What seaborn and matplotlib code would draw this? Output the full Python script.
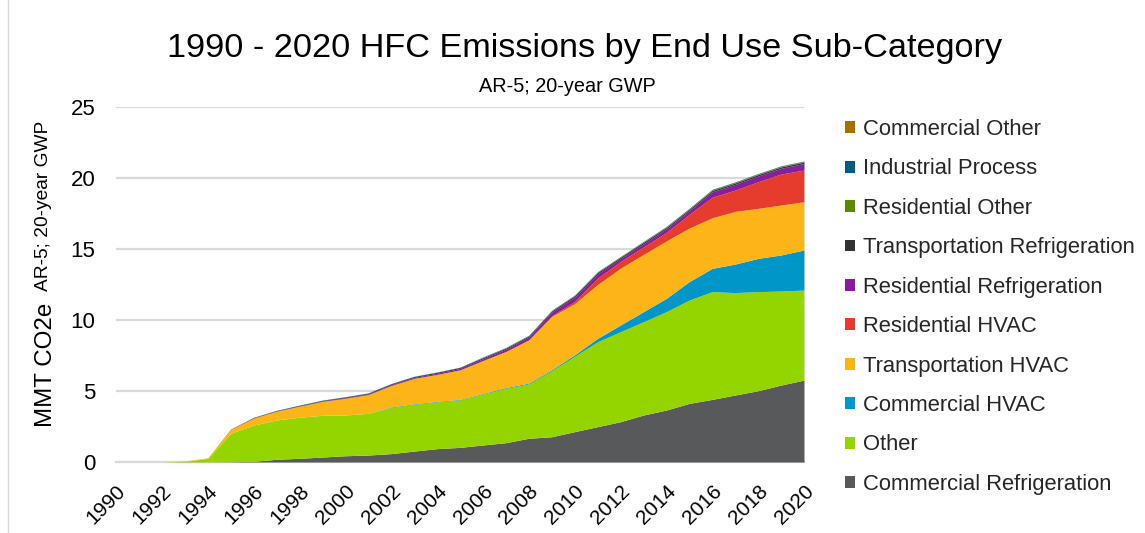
import matplotlib
matplotlib.use("Agg")
import matplotlib.pyplot as plt
from matplotlib.patches import Patch
from matplotlib.lines import Line2D
import seaborn as sns
import numpy as np
import pandas as pd

years = list(range(1990, 2021))

commercial_refrigeration = [0, 0, 0, 0, 0, 0.02, 0.05, 0.19, 0.26, 0.35, 0.44, 0.49, 0.59, 0.77, 0.94, 1.03,
                            1.2, 1.36, 1.67, 1.78, 2.14, 2.49, 2.84, 3.31, 3.66, 4.13, 4.41, 4.72, 5.02, 5.42, 5.77]
other = [0, 0, 0, 0.05, 0.25, 2.0, 2.55, 2.77, 2.89, 2.94, 2.87, 2.94, 3.24, 3.29, 3.29, 3.34,
         3.59, 3.83, 3.83, 4.65, 5.31, 5.98, 6.34, 6.57, 6.93, 7.28, 7.59, 7.21, 6.98, 6.62, 6.34]
commercial_hvac = [0, 0, 0, 0, 0, 0, 0, 0, 0, 0, 0, 0, 0.04, 0.04, 0.04, 0.04,
                   0.04, 0.05, 0.06, 0.07, 0.1, 0.24, 0.47, 0.71, 0.94, 1.3, 1.64, 2.01, 2.34, 2.54, 2.82]
transportation_hvac = [0, 0, 0, 0.02, 0.05, 0.28, 0.5, 0.62, 0.78, 0.98, 1.18, 1.32, 1.52, 1.79, 1.9, 2.08,
                       2.32, 2.55, 3.04, 3.75, 3.61, 3.79, 4.0, 4.03, 4.04, 3.77, 3.56, 3.71, 3.52, 3.52, 3.4]
residential_hvac = [0, 0, 0, 0, 0, 0, 0, 0, 0, 0, 0, 0, 0, 0, 0, 0,
                    0, 0, 0.01, 0.05, 0.15, 0.45, 0.47, 0.53, 0.6, 0.97, 1.45, 1.5, 1.88, 2.18, 2.23]
residential_refrigeration = [0, 0, 0, 0, 0, 0, 0, 0.01, 0.02, 0.03, 0.04, 0.05, 0.06, 0.07, 0.08, 0.1,
                             0.12, 0.15, 0.18, 0.25, 0.3, 0.3, 0.2, 0.22, 0.25, 0.25, 0.38, 0.4, 0.4, 0.4, 0.46]
transportation_refrigeration = [0, 0, 0, 0, 0, 0.02, 0.03, 0.03, 0.04, 0.04, 0.05, 0.05, 0.06, 0.06, 0.07, 0.07,
                                0.08, 0.08, 0.09, 0.09, 0.1, 0.1, 0.1, 0.1, 0.1, 0.1, 0.1, 0.1, 0.1, 0.1, 0.1]
residential_other = [0, 0, 0, 0, 0, 0, 0, 0, 0, 0, 0, 0, 0, 0, 0, 0,
                     0.02, 0.02, 0.02, 0.02, 0.02, 0.02, 0.02, 0.02, 0.03, 0.03, 0.03, 0.03, 0.03, 0.03, 0.03]
industrial_process = [0, 0, 0, 0, 0, 0, 0.02, 0.02, 0.02, 0.02, 0.02, 0.02, 0.02, 0.02, 0.02, 0.02,
                      0.03, 0.03, 0.03, 0.03, 0.03, 0.03, 0.03, 0.04, 0.04, 0.04, 0.04, 0.04, 0.04, 0.04, 0.04]
commercial_other = [0, 0, 0, 0, 0, 0, 0, 0, 0, 0, 0, 0, 0, 0, 0, 0,
                    0, 0, 0, 0, 0.01, 0.01, 0.01, 0.01, 0.01, 0.01, 0.01, 0.01, 0.01, 0.01, 0.01]

categories = ["Commercial Refrigeration", "Other", "Commercial HVAC", "Transportation HVAC",
              "Residential HVAC", "Residential Refrigeration", "Transportation Refrigeration",
              "Residential Other", "Industrial Process", "Commercial Other"]
series = [commercial_refrigeration, other, commercial_hvac, transportation_hvac, residential_hvac,
          residential_refrigeration, transportation_refrigeration, residential_other,
          industrial_process, commercial_other]
colors = ["#58595B", "#94D500", "#0096C8", "#FDB418", "#E53C2E", "#8A1C9E",
          "#333333", "#5A8A00", "#005C7E", "#A57100"]

df = pd.DataFrame({c: s for c, s in zip(categories, series)}, index=years)

sns.set_theme(style="white")
plt.rcParams["font.family"] = ["Liberation Sans", "DejaVu Sans"]

fig = plt.figure(figsize=(11.45, 5.33), dpi=100)
ax = fig.add_axes([116 / 1145, 1 - 462 / 533, (804 - 116) / 1145, (462 - 107) / 533])

palette = sns.color_palette(colors)
ax.stackplot(df.index, [df[c].values for c in categories], colors=palette, linewidth=0)

ax.set_xlim(1990, 2020)
ax.set_ylim(0, 25)
ax.set_yticks([0, 5, 10, 15, 20, 25])
ax.set_xticks(list(range(1990, 2021, 2)))
ax.set_xticks(years, minor=True)
ax.set_xticklabels([str(y) for y in range(1990, 2021, 2)], rotation=45, ha="right",
                   rotation_mode="anchor", fontsize=15)
ax.tick_params(axis="y", labelsize=16, length=0, pad=15, colors="#000000")
ax.tick_params(axis="x", which="both", length=8, width=1.2, color="#D9D9D9", direction="out", pad=6)
ax.tick_params(axis="x", which="major", labelcolor="#000000")
ax.yaxis.grid(True, color="#D9D9D9", linewidth=1.6)
ax.set_axisbelow(True)
sns.despine(ax=ax, left=True, top=True, right=True)
ax.spines["bottom"].set_color("#D9D9D9")
ax.spines["bottom"].set_linewidth(1.6)
ax.spines["bottom"].set_zorder(0)

fig.text(585 / 1145, 1 - 48 / 533, "1990 - 2020 HFC Emissions by End Use Sub-Category",
         ha="center", va="center", fontsize=24.7, color="#000000")
fig.text(567 / 1145, 1 - 87 / 533, "AR-5; 20-year GWP", ha="center", va="center",
         fontsize=14.3, color="#000000")
fig.text(46 / 1145, 1 - 365 / 533, "MMT CO2e", rotation=90, ha="center", va="center",
         fontsize=17.4, color="#000000")
fig.text(44 / 1145, 1 - 206 / 533, "AR-5; 20-year GWP", rotation=90, ha="center", va="center",
         fontsize=13.8, color="#000000")

handles = [Patch(facecolor=colors[i], edgecolor="none") for i in range(len(categories))][::-1]
labels = categories[::-1]
leg = fig.legend(handles, labels, loc="upper left", bbox_to_anchor=(845 / 1145, 1 - 119 / 533),
                 frameon=False, fontsize=15.8, handlelength=0.45, handleheight=0.45,
                 handletextpad=0.35, labelspacing=0.84, borderaxespad=0, borderpad=0)

fig.add_artist(Line2D([8 / 1145, 8 / 1145], [0, 1], color="#D9D9D9", linewidth=1))

fig.savefig("out.png", dpi=100)
